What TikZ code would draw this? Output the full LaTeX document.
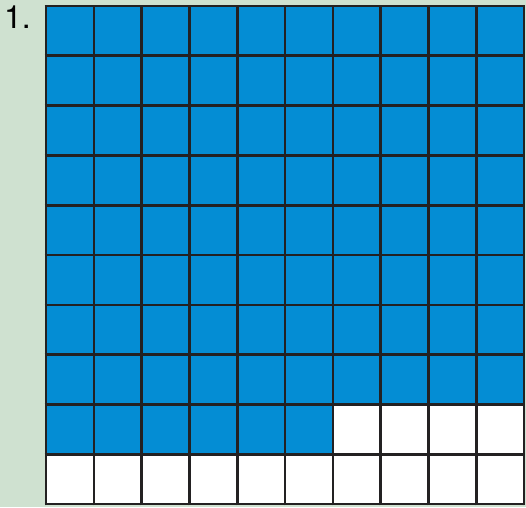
\documentclass[tikz,border=0pt]{standalone}
\usepackage{fontspec}
\setmainfont{TeX Gyre Heros}
\usepackage{xcolor}
\usepackage{tikz}
\usetikzlibrary{positioning}
\definecolor{gridBlue}{RGB}{4,141,212}
\definecolor{gridLine}{RGB}{35,33,34}
\definecolor{pageGreen}{RGB}{207,225,208}
\begin{document}
\begin{tikzpicture}[x=1pt,y=1pt]
\fill[pageGreen] (0,0) rectangle (526,507);
\useasboundingbox (0,0) rectangle (526,507);
% 10 x 10 grid, cells 47.8 x 49.8
\fill[white] (46,3) rectangle (524,501);
\foreach \r in {0,...,7}
{
    \fill[gridBlue] (46,{501-49.8*(\r+1)}) rectangle (524,{501-49.8*\r});
}
\fill[gridBlue] (46,{501-49.8*9}) rectangle ({46+47.8*6},{501-49.8*8});
\foreach \i in {0,...,10}
{
    \draw[gridLine, line width=2.6pt] ({46+47.8*\i},1.7) -- ({46+47.8*\i},502.3);
    \draw[gridLine, line width=2.6pt] (44.7,{3+49.8*\i}) -- (525.3,{3+49.8*\i});
}
\node[anchor=base west, inner sep=0pt, font=\fontsize{32}{36}\selectfont] (num) at (4,478) {1.};
\end{tikzpicture}
\end{document}
